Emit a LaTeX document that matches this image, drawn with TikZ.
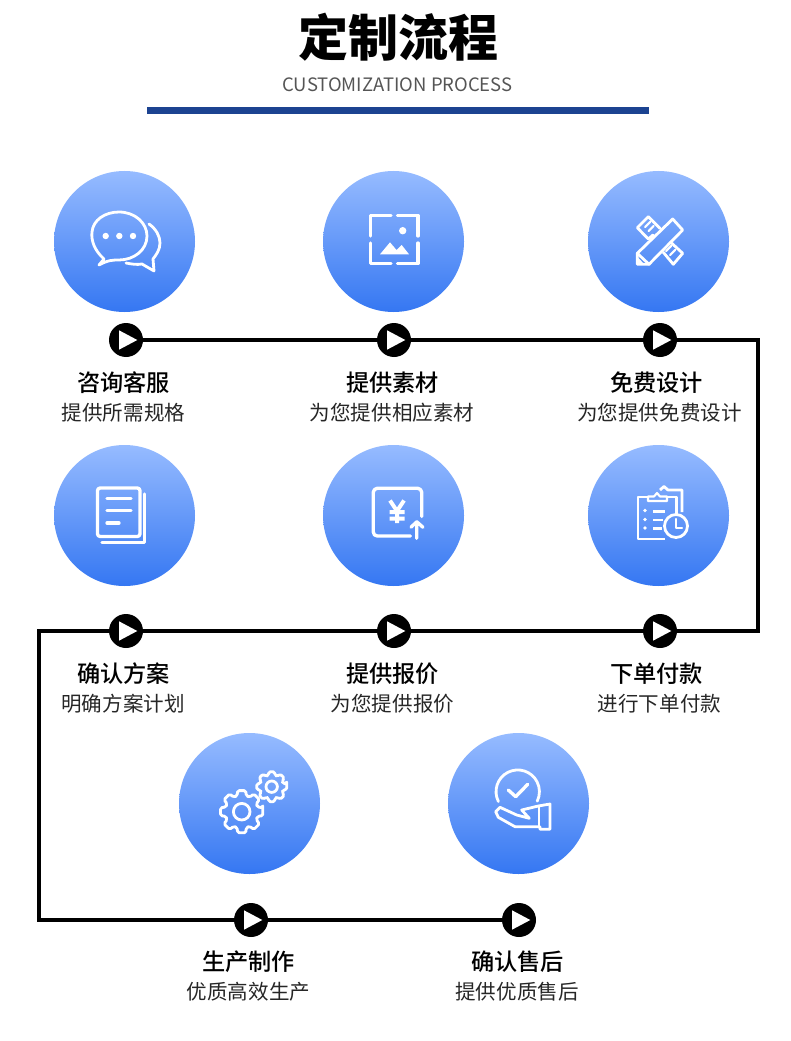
\documentclass[tikz,border=0pt]{standalone}
\usepackage{fontspec}
\usepackage{xcolor}
\setmainfont{Noto Sans CJK SC}
\newfontfamily\cjk{Noto Sans CJK SC}
\newfontfamily\cjkmedium{Noto Sans CJK SC Medium}
\newfontfamily\cjkblack{Noto Sans CJK SC Black}
\definecolor{badgeTop}{RGB}{150, 187, 255}
\definecolor{badgeBottom}{RGB}{53, 119, 242}
\definecolor{barBlue}{RGB}{28, 67, 145}
\definecolor{subGray}{RGB}{85, 85, 85}
\usetikzlibrary{shapes.geometric, positioning}

\begin{document}
\begin{tikzpicture}[
  x=0.75pt, y=-0.75pt,
  badge/.style={circle, minimum size=105.75pt, inner sep=0pt,
                top color=badgeTop, bottom color=badgeBottom},
  playmark/.style={circle, fill=black, minimum size=25.5pt, inner sep=0pt,
                   path picture={\fill[white, shift={(path picture bounding box.center)}]
                                 (-7,-9.7) -- (11.3,0) -- (-7,9.7) -- cycle;}},
  stepname/.style={font=\fontsize{17.4}{20}\selectfont\cjkmedium, text=black, inner sep=0pt},
  stepnote/.style={font=\fontsize{15.4}{18}\selectfont\cjk, text=black!85, inner sep=0pt},
  flow/.style={draw=black, line width=2.3pt},
  iconline/.style={draw=white, line width=2.1pt, line join=round, line cap=round},
  iconheavy/.style={draw=white, line width=2.5pt, line join=round, line cap=round},
  iconthin/.style={draw=white, line width=1.6pt, line join=round, line cap=round}]

  \useasboundingbox (0,0) rectangle (790,1041);

  % ── Heading ───────────────────────────────────────────────────────
  \node[font=\fontsize{37.5}{40}\selectfont\cjkblack, inner sep=0pt] (heading) at (398,37) {定制流程};
  \node[font=\fontsize{13.85}{16}\selectfont\cjk, text=subGray, inner sep=0pt] (subheading) at (397.5,85) {CUSTOMIZATION PROCESS};
  \node[fill=barBlue, minimum width=376.5pt, minimum height=5.25pt, inner sep=0pt] (bar) at (398,110.5) {};

  % ── Row 1 : badges ────────────────────────────────────────────────
  \node[badge] (consult) at (124.5,241.5) {};
  \node[badge] (material) at (393.5,241.5) {};
  \node[badge] (design) at (658.5,241.5) {};

  % ── Row 2 : badges ────────────────────────────────────────────────
  \node[badge] (confirm) at (124.5,515.5) {};
  \node[badge] (quote) at (393.5,515.5) {};
  \node[badge] (order) at (658.5,515.5) {};

  % ── Row 3 : badges ────────────────────────────────────────────────
  \node[badge] (produce) at (249.5,803.5) {};
  \node[badge] (service) at (518.5,803.5) {};

  % ── Markers ───────────────────────────────────────────────────────
  \node[playmark] (markConsult) at (126,340) {};
  \node[playmark] (markMaterial) at (394,340) {};
  \node[playmark] (markDesign) at (660,340) {};
  \node[playmark] (markConfirm) at (126,631) {};
  \node[playmark] (markQuote) at (394,631) {};
  \node[playmark] (markOrder) at (660,631) {};
  \node[playmark] (markProduce) at (251,920) {};
  \node[playmark] (markService) at (519,920) {};

  % ── Flow line ─────────────────────────────────────────────────────
  \coordinate (turnTopRight) at (758,340);
  \coordinate (turnMidRight) at (758,631);
  \coordinate (turnMidLeft) at (39,631);
  \coordinate (turnLowLeft) at (39,920);
  \draw[flow] (markConsult) -- (markMaterial);
  \draw[flow] (markMaterial) -- (markDesign);
  \draw[flow] (markDesign) -- (turnTopRight) -- (turnMidRight) -- (markOrder);
  \draw[flow] (markOrder) -- (markQuote);
  \draw[flow] (markQuote) -- (markConfirm);
  \draw[flow] (markConfirm) -- (turnMidLeft) -- (turnLowLeft) -- (markProduce);
  \draw[flow] (markProduce) -- (markService);

  % ── Labels ────────────────────────────────────────────────────────
  \node[stepname] (nameConsult) at (123.5,382.5) {咨询客服};
  \node[stepnote] (noteConsult) at (123.5,413) {提供所需规格};
  \node[stepname] (nameMaterial) at (392.5,382.5) {提供素材};
  \node[stepnote] (noteMaterial) at (392,413) {为您提供相应素材};
  \node[stepname] (nameDesign) at (656.5,382.5) {免费设计};
  \node[stepnote] (noteDesign) at (659.5,413) {为您提供免费设计};
  \node[stepname] (nameConfirm) at (123.5,673.5) {确认方案};
  \node[stepnote] (noteConfirm) at (123,704) {明确方案计划};
  \node[stepname] (nameQuote) at (392.5,673.5) {提供报价};
  \node[stepnote] (noteQuote) at (392.5,704) {为您提供报价};
  \node[stepname] (nameOrder) at (656.5,673.5) {下单付款};
  \node[stepnote] (noteOrder) at (659.5,704) {进行下单付款};
  \node[stepname] (nameProduce) at (248.5,961.5) {生产制作};
  \node[stepnote] (noteProduce) at (248.5,992) {优质高效生产};
  \node[stepname] (nameService) at (517.5,961.5) {确认售后};
  \node[stepnote] (noteService) at (517,992) {提供优质售后};

  % ── Icon : chat bubbles ───────────────────────────────────────────
  \draw[iconline] (104,259) .. controls (94,250) and (91,240) .. (92,232)
        .. controls (93,220) and (105,212) .. (119,212)
        .. controls (135,212) and (147,223) .. (147,236)
        .. controls (147,250) and (134,260) .. (119,260)
        .. controls (113,260) and (108,260) .. (99,265) -- cycle;
  \draw[iconline] (149,224) .. controls (156,229) and (160,236) .. (160,243)
        .. controls (160,250) and (156,255) .. (153,259) -- (154,271) -- (142,264)
        .. controls (137,265) and (131,264) .. (126,263);
  \fill[white] (105.7,236) circle (3.2) (119.3,236) circle (3.2) (133,236) circle (3.2);

  % ── Icon : picture frame ──────────────────────────────────────────
  \draw[iconheavy] (391,215.5) -- (370.5,215.5) -- (370.5,236);
  \draw[iconheavy] (397.5,215.5) -- (418,215.5) -- (418,236);
  \draw[iconheavy] (370.5,243) -- (370.5,263.5) -- (391,263.5);
  \draw[iconheavy] (418,243) -- (418,263.5) -- (397.5,263.5);
  \fill[white] (402.7,230.7) circle (3.7);
  \fill[white] (380,254.3) -- (390,242.3) -- (396.5,250) -- (401.7,245) -- (409,254.3) -- cycle;

  % ── Icon : ruler and pencil ───────────────────────────────────────
  \draw[iconline] (637.3,264.3) -- (637.3,253.3) -- (672.7,219) -- (682.7,230) -- (649,264.3) -- cycle;
  \draw[iconline] (637.3,253.3) -- (649,264.3);
  \fill[white] (637.3,264.3) -- (637.3,257) -- (644.5,264.3) -- cycle;
  \draw[iconline] (653,235) -- (648.3,239) -- (637.3,227.7) -- (648.3,216.7) -- (660,228.3);
  \draw[iconline] (663.3,252.3) -- (673.3,264.3) -- (682.7,253.3) -- (670.7,242.3);
  \draw[iconthin] (645,227) -- (650,222) (648.5,231) -- (653.5,226);
  \draw[iconthin] (666,251) -- (671,246) (670,255) -- (675,250);

  % ── Icon : document stack ─────────────────────────────────────────
  \draw[iconheavy, rounded corners=2pt] (97.5,488) rectangle (140,536.5);
  \draw[iconheavy] (144.7,494) -- (144.7,542.7) -- (102,542.7);
  \draw[iconheavy] (107,498.7) -- (131,498.7) (107,510.7) -- (131,510.7) (107,523) -- (119,523);

  % ── Icon : price with arrow ───────────────────────────────────────
  \draw[iconheavy, rounded corners=3pt] (421.7,516.5) -- (421.7,488.3) -- (373.3,488.3) -- (373.3,536) -- (410.5,536);
  \draw[iconheavy] (416.7,538.3) -- (416.7,522) (411,527.3) -- (416.7,521.7) -- (423,527.3);
  \draw[line width=3pt, draw=white] (390,500.5) -- (397,511) -- (404,500.5) (397,511) -- (397,523) (389.5,512) -- (404.5,512) (389.5,518.5) -- (404.5,518.5);

  % ── Icon : clipboard and clock ────────────────────────────────────
  \draw[iconline, line cap=butt] (676.7,514) -- (676.7,497) -- (668,497) (647,497) -- (638,497) -- (638,539) -- (665,539);
  \draw[iconthin, line cap=butt] (648,501) -- (648,496.5) -- (654,496.5) -- (657,493) -- (660,496.5) -- (667,496.5) -- (667,501) -- cycle;
  \draw[iconline, line cap=butt] (660,490) -- (664,486.5) -- (668,490) -- (682,490) -- (682,512);
  \draw[iconline] (676,526) circle (11.5);
  \draw[iconthin] (676,519) -- (676,528) -- (682,528);
  \fill[white] (645,510.5) circle (1.9) (645,519.5) circle (1.9) (645,528) circle (1.9);
  \draw[iconline, line cap=butt] (653,511.5) -- (665,511.5) (653,520) -- (663,520) (653,528.5) -- (662,528.5);

  % ── Icon : gears ──────────────────────────────────────────────────
  \foreach \cx/\cy/\rr/\hole in {241.7/811.7/21.5/8.3, 271.7/786.7/15.3/5.7} {
    \begin{scope}[shift={(\cx,\cy)}]
      \draw[iconline, rounded corners=1.2pt] (-11:\rr)
        \foreach \a in {0,45,...,315} {
          -- (\a-11:\rr) -- (\a+11:\rr) -- (\a+16:0.77*\rr) -- (\a+29:0.77*\rr)
        } -- cycle;
      \draw[iconline] (0,0) circle (\hole);
    \end{scope}
  }

  % ── Icon : hand with check ────────────────────────────────────────
  \draw[iconline] (498.4,801.5) arc[start angle=153, end angle=386, radius=21.7];
  \draw[iconheavy] (508.3,790) -- (515.7,796.7) -- (527.7,784.3);
  \draw[iconline] (538.3,806) -- (550,804) -- (550,829.3) -- (540,829.3) -- (540,826.7) -- (515,826.7)
        -- (498.3,817.3) -- (495.7,811.7) -- (500,807.3) -- (516.7,815) -- (529.3,818.3) -- (521.7,810) -- cycle;
  \draw[iconline] (539,806) -- (539,827);

\end{tikzpicture}
\end{document}
